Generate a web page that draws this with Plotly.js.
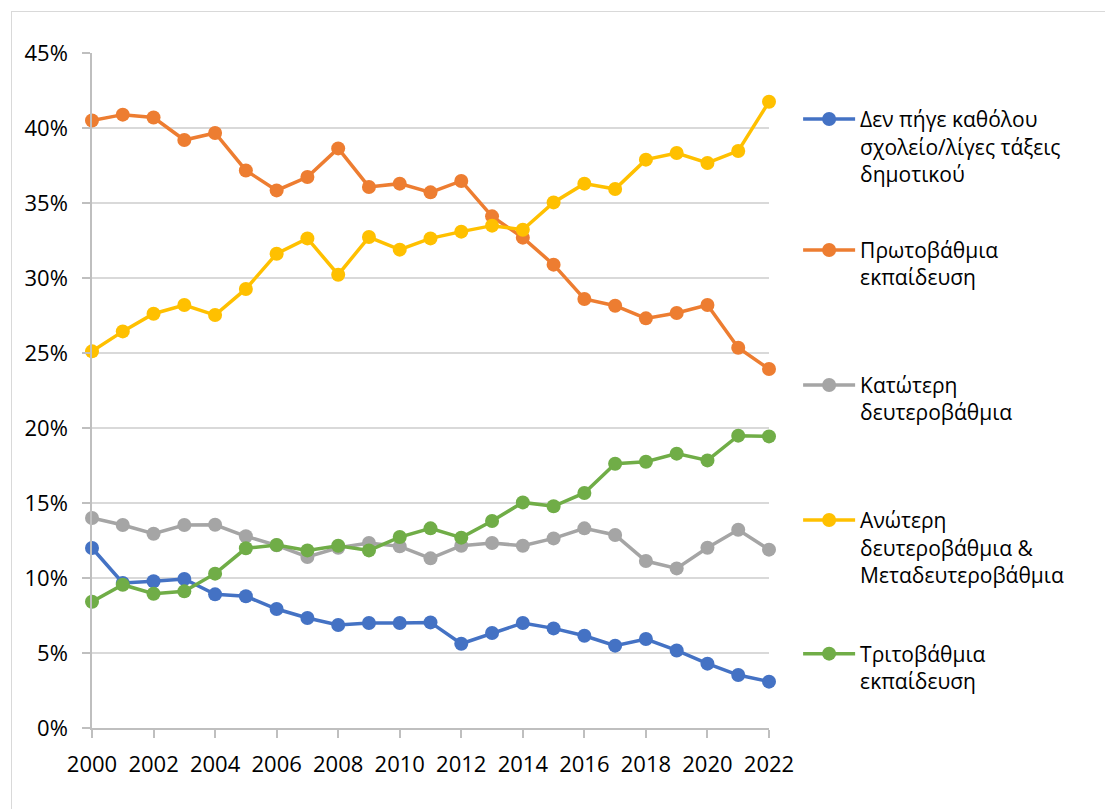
<!DOCTYPE html>
<html>
<head>
<meta charset="utf-8">
<script src="https://cdn.plot.ly/plotly-3.0.1.min.js"></script>
<style>
  html, body { margin: 0; padding: 0; background: #fff; }
  #chart { position: absolute; left: 0; top: 0; width: 1105px; height: 809px; }
  #frame { position: absolute; left: 11px; top: 11px; width: 1200px; height: 900px;
           border-left: 1px solid #d9d9d9; border-top: 1px solid #d9d9d9; pointer-events: none; }
</style>
</head>
<body>
<div id="chart"></div>
<div id="frame"></div>
<script>
const years = [2000,2001,2002,2003,2004,2005,2006,2007,2008,2009,2010,2011,2012,2013,2014,2015,2016,2017,2018,2019,2020,2021,2022];

const seriesNames = [
  "Δεν πήγε καθόλου<br>σχολείο/λίγες τάξεις<br>δημοτικού",
  "Πρωτοβάθμια<br>εκπαίδευση",
  "Κατώτερη<br>δευτεροβάθμια",
  "Ανώτερη<br>δευτεροβάθμια &<br>Μεταδευτεροβάθμια",
  "Τριτοβάθμια<br>εκπαίδευση"
];

const noSchool   = [12.0, 9.67, 9.78, 9.93, 8.91, 8.78, 7.93, 7.33, 6.87, 7.0, 7.0, 7.04, 5.62, 6.33, 7.0, 6.64, 6.15, 5.49, 5.93, 5.17, 4.29, 3.53, 3.09];
const primary    = [40.5, 40.89, 40.7, 39.2, 39.67, 37.17, 35.84, 36.73, 38.64, 36.07, 36.29, 35.71, 36.47, 34.11, 32.69, 30.89, 28.6, 28.15, 27.31, 27.67, 28.2, 25.35, 23.93];
const lowerSec   = [14.0, 13.53, 12.95, 13.53, 13.55, 12.78, 12.18, 11.4, 12.02, 12.33, 12.11, 11.31, 12.15, 12.33, 12.15, 12.64, 13.31, 12.87, 11.13, 10.64, 12.02, 13.22, 11.89];
const upperSec   = [25.11, 26.44, 27.62, 28.2, 27.53, 29.27, 31.62, 32.64, 30.22, 32.73, 31.89, 32.64, 33.09, 33.49, 33.22, 35.04, 36.29, 35.93, 37.89, 38.33, 37.67, 38.47, 41.75];
const tertiary   = [8.42, 9.55, 8.95, 9.11, 10.29, 11.98, 12.2, 11.84, 12.15, 11.84, 12.73, 13.31, 12.69, 13.8, 15.04, 14.78, 15.67, 17.62, 17.75, 18.29, 17.84, 19.49, 19.44];

const colors = ["#4472C4", "#ED7D31", "#A5A5A5", "#FFC000", "#70AD47"];
const allSeries = [noSchool, primary, lowerSec, upperSec, tertiary];
const legendIds = ["legend", "legend2", "legend3", "legend4", "legend5"];

const traces = allSeries.map((vals, i) => ({
  x: years,
  y: vals.map(v => v / 100),
  name: seriesNames[i],
  type: "scatter",
  mode: "lines+markers",
  line: { color: colors[i], width: 3.5 },
  marker: { color: colors[i], size: 14 },
  cliponaxis: false,
  legend: legendIds[i],
  hoverinfo: "x+y+name"
}));

const font = { family: "Open Sans, Noto Sans, sans-serif", size: 22, color: "#000000" };
const legendFont = { family: "Open Sans, Noto Sans, sans-serif", size: 21, color: "#000000" };
const legendTops = [0.932, 0.738, 0.538, 0.338, 0.14];

const layout = {
  width: 1105,
  height: 809,
  margin: { l: 92, r: 336, t: 53, b: 81 },
  paper_bgcolor: "#ffffff",
  plot_bgcolor: "#ffffff",
  font: font,
  showlegend: true,
  xaxis: {
    range: [2000, 2022],
    tickmode: "linear",
    tick0: 2000,
    dtick: 2,
    showgrid: false,
    zeroline: false,
    showline: true,
    linecolor: "#BFBFBF",
    linewidth: 1.5,
    ticks: "outside",
    ticklen: 8,
    tickcolor: "#BFBFBF",
    tickwidth: 1.5,
    tickfont: font,
    ticklabelstandoff: 8
  },
  yaxis: {
    range: [0, 0.45],
    tickmode: "linear",
    tick0: 0,
    dtick: 0.05,
    tickformat: ".0%",
    showgrid: true,
    gridcolor: "#D9D9D9",
    gridwidth: 1.5,
    zeroline: false,
    showline: true,
    linecolor: "#BFBFBF",
    linewidth: 1.5,
    ticks: "outside",
    ticklen: 8,
    tickcolor: "#BFBFBF",
    tickwidth: 1.5,
    tickfont: font,
    ticklabelstandoff: 10
  }
};

legendIds.forEach((id, i) => {
  layout[id] = {
    x: 1.043,
    xanchor: "left",
    y: legendTops[i],
    yanchor: "top",
    valign: "top",
    font: legendFont,
    bgcolor: "rgba(0,0,0,0)",
    borderwidth: 0,
    itemwidth: 52
  };
});

Plotly.newPlot("chart", traces, layout, { displayModeBar: false });
</script>
</body>
</html>
